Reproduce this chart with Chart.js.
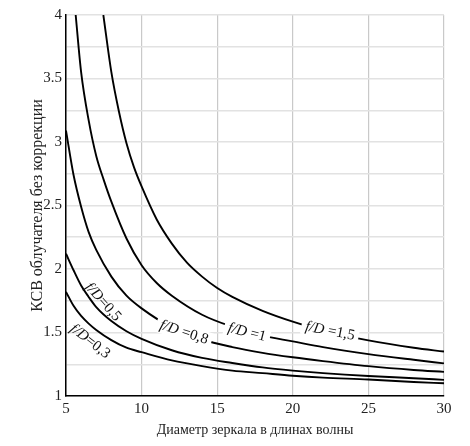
<!DOCTYPE html>
<html>
<head>
<meta charset="utf-8">
<script src="https://cdn.jsdelivr.net/npm/chart.js@4.4.1/dist/chart.umd.min.js"></script>
<style>
  html, body { margin: 0; padding: 0; background: #fff; }
  #wrap { width: 470px; height: 446px; }
</style>
</head>
<body>
<div id="wrap"><canvas id="ksvChart"></canvas></div>
<script>
// диаметр зеркала (в длинах волны) для нижних трёх кривых
const diam = [5, 5.5, 6, 6.5, 7, 8, 9, 10, 12, 14, 16, 18, 20, 22, 25, 28, 30];
const ksv03 = [1.82, 1.71, 1.63, 1.57, 1.52, 1.44, 1.38, 1.345, 1.28, 1.235, 1.20, 1.18, 1.16, 1.145, 1.13, 1.11, 1.10];
const ksv05 = [2.12, 1.99, 1.87, 1.78, 1.70, 1.59, 1.51, 1.45, 1.36, 1.30, 1.26, 1.225, 1.20, 1.18, 1.157, 1.14, 1.127];
const ksv08 = [3.09, 2.74, 2.49, 2.29, 2.15, 1.94, 1.79, 1.69, 1.54, 1.445, 1.385, 1.34, 1.305, 1.275, 1.235, 1.205, 1.19];

// f/D = 1 и 1,5 начинаются от верхней границы графика
const diam10 = [5.64, 6, 6.5, 7, 7.5, 8, 9, 10, 11, 12, 14, 16, 18, 20, 22, 25, 28, 30];
const ksv10 = [4.0, 3.55, 3.17, 2.89, 2.70, 2.53, 2.24, 2.03, 1.89, 1.79, 1.64, 1.545, 1.475, 1.43, 1.385, 1.33, 1.285, 1.257];
const diam15 = [7.47, 8, 8.5, 9, 9.5, 10, 11, 12, 13, 14, 15, 16, 18, 20, 22, 25, 28, 30];
const ksv15 = [4.0, 3.55, 3.24, 2.99, 2.80, 2.65, 2.39, 2.20, 2.05, 1.94, 1.85, 1.78, 1.67, 1.585, 1.515, 1.438, 1.38, 1.35];

const xTicks = [5, 10, 15, 20, 25, 30];
const yTicks = [1, 1.5, 2, 2.5, 3, 3.5, 4];

function pts(xs, ys) {
    return xs.map(function (x, i) { return { x: x, y: ys[i] }; });
}

function curve(label, xs, ys) {
    return {
        label: label,
        data: pts(xs, ys),
        borderColor: '#000',
        borderWidth: 1.9,
        pointRadius: 0,
        showLine: true,
        fill: false,
        cubicInterpolationMode: 'monotone'
    };
}

const serif = '"Liberation Serif", "Times New Roman", serif';

// подписи кривых: x, y в единицах осей, угол в градусах, белая подложка
const curveLabelPlugin = {
    id: 'curveLabels',
    afterDatasetsDraw: function (chart, args, opts) {
        const ctx = chart.ctx;
        const xs = chart.scales.x, ys = chart.scales.y;
        opts.items.forEach(function (it) {
            const px = xs.getPixelForValue(it.x);
            const py = ys.getPixelForValue(it.y);
            ctx.save();
            ctx.translate(px, py);
            ctx.rotate(it.angle * Math.PI / 180);
            ctx.font = 'italic 15px ' + serif;
            const w1 = ctx.measureText('f/D').width;
            ctx.font = '15px ' + serif;
            const w2 = ctx.measureText(it.rest).width;
            const w = w1 + w2;
            if (it.bg) {
                ctx.fillStyle = '#fff';
                ctx.fillRect(-w / 2 - 4, -8, w + 8, 16);
            }
            ctx.fillStyle = '#111';
            ctx.textBaseline = 'middle';
            ctx.textAlign = 'left';
            ctx.font = 'italic 15px ' + serif;
            ctx.fillText('f/D', -w / 2, 0);
            ctx.font = '15px ' + serif;
            ctx.fillText(it.rest, -w / 2 + w1, 0);
            ctx.restore();
        });
    }
};

new Chart(document.getElementById('ksvChart'), {
    type: 'scatter',
    data: {
        datasets: [
            curve('0,3', diam, ksv03),
            curve('0,5', diam, ksv05),
            curve('0,8', diam, ksv08),
            curve('1', diam10, ksv10),
            curve('1,5', diam15, ksv15)
        ]
    },
    options: {
        responsive: true,
        maintainAspectRatio: false,
        animation: false,
        layout: {
            padding: { top: 15, right: 26, bottom: 0, left: 0 }
        },
        scales: {
            x: {
                type: 'linear',
                min: 5,
                max: 30,
                afterBuildTicks: function (axis) {
                    axis.ticks = xTicks.map(function (v) { return { value: v }; });
                },
                afterFit: function (axis) { axis.height = 50; },
                grid: { color: '#c9c9c9', lineWidth: 1.2, drawTicks: false },
                border: { color: '#000', width: 1.5 },
                ticks: {
                    color: '#222',
                    padding: 4,
                    font: { family: serif, size: 15 }
                },
                title: {
                    display: true,
                    text: 'Диаметр зеркала в длинах волны',
                    color: '#222',
                    font: { family: serif, size: 14 },
                    padding: { top: 0, bottom: 7 }
                }
            },
            y: {
                type: 'linear',
                min: 1,
                max: 4,
                // сетка через 0.25, подписи через 0.5
                afterBuildTicks: function (axis) {
                    var t = [];
                    for (var v = 1; v <= 4.001; v += 0.25) t.push({ value: Math.round(v * 100) / 100 });
                    axis.ticks = t;
                },
                afterFit: function (axis) { axis.width = 66; },
                grid: { color: '#e2e2e2', lineWidth: 1.5, drawTicks: false },
                border: { color: '#000', width: 1.5 },
                ticks: {
                    color: '#222',
                    padding: 4,
                    font: { family: serif, size: 15 },
                    callback: function (v) {
                        return yTicks.indexOf(v) >= 0 ? String(v) : '';
                    }
                },
                title: {
                    display: true,
                    text: 'КСВ облучателя без коррекции',
                    color: '#222',
                    font: { family: serif, size: 16 },
                    padding: { top: 28, bottom: 0 }
                }
            }
        },
        plugins: {
            legend: { display: false },
            tooltip: { enabled: false },
            curveLabels: {
                items: [
                    { x: 6.59, y: 1.43, angle: 38, rest: '=0,3', bg: false },
                    { x: 7.45, y: 1.74, angle: 48, rest: '=0,5', bg: false },
                    { x: 12.8, y: 1.50, angle: 18, rest: ' =0,8', bg: true },
                    { x: 16.97, y: 1.50, angle: 14, rest: ' =1', bg: true },
                    { x: 22.46, y: 1.51, angle: 11, rest: ' =1,5', bg: true }
                ]
            }
        }
    },
    plugins: [curveLabelPlugin]
});
</script>
</body>
</html>
